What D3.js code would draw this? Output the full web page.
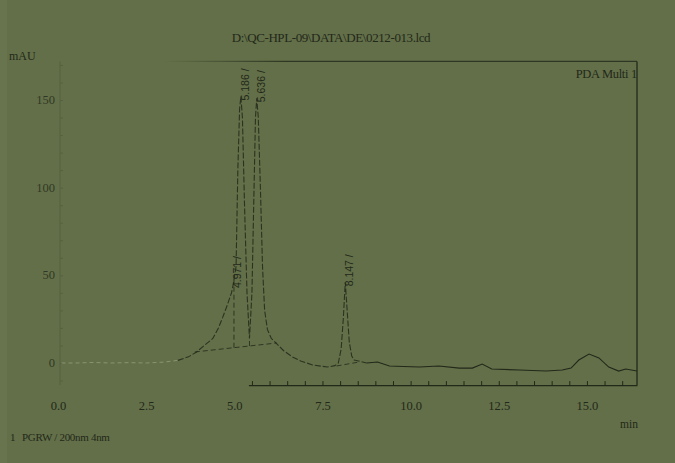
<!DOCTYPE html>
<html>
<head>
<meta charset="utf-8">
<script src="https://cdn.jsdelivr.net/npm/d3@7"></script>
<style>
  html, body { margin: 0; padding: 0; background: #636f48; }
  svg { display: block; }
  text { font-family: "Liberation Serif", "DejaVu Serif", serif; fill: #22281a; }
  .pk { font-family: "Liberation Sans", Arial, sans-serif; font-size: 10.5px; }
</style>
</head>
<body>
<div id="chart"></div>
<script>
// chromatogram trace (time in min, signal in mAU)
var times = [0.1, 0.5, 1.0, 1.5, 2.0, 2.5, 3.0, 3.4, 3.7, 3.93, 4.15, 4.39, 4.55, 4.67, 4.8, 4.92, 4.971,
  5.05, 5.1, 5.15, 5.186, 5.23, 5.29, 5.36, 5.43, 5.5, 5.56, 5.6, 5.636, 5.68, 5.74, 5.8, 5.86, 5.94, 6.05, 6.2,
  6.4, 6.65, 6.9, 7.22, 7.64, 7.85, 7.95, 8.03, 8.09, 8.147, 8.2, 8.26, 8.33, 8.4, 8.75, 9.06, 9.4, 9.8,
  10.25, 10.8, 11.38, 11.75, 12.03, 12.3, 13.08, 13.84, 14.3, 14.55, 14.77, 15.06, 15.34, 15.62, 15.9, 16.1, 16.42];
var signal = [0, 0, 0.3, 0, 0.2, 0, 0.5, 1.5, 3.5, 6.3, 10, 14, 20, 26, 33, 40, 45,
  55, 110, 145, 152, 140, 90, 40, 14, 40, 100, 140, 151, 140, 100, 55, 30, 19, 14, 11,
  7, 3.4, 1, -1.1, -2.3, -1.5, 0, 8, 25, 46, 30, 12, 4, 1.7, 0, 0.6, -1.7, -2,
  -2.3, -1.7, -2.9, -2.9, -0.6, -3.4, -4, -4.6, -4, -2.9, 1.7, 5.1, 2.9, -2.3, -4.6, -3.4, -4.6];

// labelled peaks
var peakTimes = [4.971, 5.186, 5.636, 8.147];
var peakLabels = ["4.971 /", "5.186 /", "5.636 /", "8.147 /"];
var peakHeights = [45, 152, 151, 46];

// integration baselines and drop lines
var baseLines = [[[3.88, 6.3], [6.2, 11.4]], [[7.9, -1.7], [8.55, 0.6]]];
var dropTimes = [4.99, 5.43];

var xTicks = [0, 2.5, 5, 7.5, 10, 12.5, 15];
var yTicks = [0, 50, 100, 150];

var W = 675, H = 463;
var x = d3.scaleLinear().domain([0, 16.42]).range([58, 637]);
var y = d3.scaleLinear().domain([0, 150]).range([363, 100]);
var yTop = 172, yBottom = -12.6;

var svg = d3.select("#chart").append("svg").attr("width", W).attr("height", H);
svg.append("rect").attr("width", W).attr("height", H).attr("fill", "#636f48");
svg.append("rect").attr("width", 7).attr("height", H).attr("fill", "#68744d");

var defs = svg.append("defs");
var g1 = defs.append("linearGradient").attr("id", "fadeTop")
  .attr("gradientUnits", "userSpaceOnUse")
  .attr("x1", x(3)).attr("x2", x(6.5)).attr("y1", 0).attr("y2", 0);
g1.append("stop").attr("offset", 0).attr("stop-color", "#22281a").attr("stop-opacity", 0);
g1.append("stop").attr("offset", 1).attr("stop-color", "#22281a").attr("stop-opacity", 0.8);

// top frame line (faded at the left in the scan)
svg.append("line")
  .attr("x1", x(3)).attr("x2", x(16.42))
  .attr("y1", y(yTop)).attr("y2", y(yTop))
  .attr("stroke", "url(#fadeTop)").attr("stroke-width", 1.2);

// right frame
svg.append("line")
  .attr("x1", x(16.42)).attr("x2", x(16.42))
  .attr("y1", y(yTop)).attr("y2", y(yBottom))
  .attr("stroke", "#22281a").attr("stroke-width", 1.3);

// left axis, barely visible
var yAxis = d3.axisLeft(y).tickValues(d3.range(-10, 171, 10)).tickSize(-3).tickFormat("");
svg.append("g").attr("transform", "translate(60,0)")
  .attr("opacity", 0.12).call(yAxis)
  .call(function (g) { g.select(".domain").attr("d", "M0," + y(yTop) + "V" + y(yBottom)); });

svg.selectAll(".ylab").data(yTicks).enter().append("text")
  .attr("class", "ylab")
  .attr("x", 55).attr("y", function (d) { return y(d) + 4; })
  .attr("text-anchor", "end").attr("font-size", 12.5)
  .attr("fill-opacity", 0.8)
  .text(function (d) { return d; });

// bottom axis: only the right part survived in the scan
var xVis = d3.scaleLinear().domain([5.4, 16.42]).range([x(5.4), x(16.42)]);
var minor = d3.range(5.5, 16.42, 0.5);
svg.append("g").attr("transform", "translate(0," + y(yBottom) + ")")
  .call(d3.axisBottom(xVis).tickValues(minor).tickSize(-4).tickSizeOuter(0).tickFormat(""))
  .call(function (g) {
    g.select(".domain").attr("stroke", "#22281a").attr("stroke-width", 1.1);
    g.selectAll(".tick line").attr("stroke", "#22281a").attr("stroke-width", 1);
  });

svg.append("g").attr("transform", "translate(0," + y(yBottom) + ")")
  .call(d3.axisBottom(x).tickValues(xTicks).tickSize(0).tickPadding(16)
    .tickFormat(d3.format(".1f")))
  .call(function (g) {
    g.select(".domain").remove();
    g.selectAll("text").attr("font-size", 12.5)
      .attr("font-family", "Liberation Serif, serif").attr("fill", "#22281a");
  });

// trace
var pts = times.map(function (t, i) { return [t, signal[i]]; });
var line = d3.line().x(function (d) { return x(d[0]); }).y(function (d) { return y(d[1]); });

svg.append("path").datum(pts.filter(function (d) { return d[0] <= 3.5; }))
  .attr("d", line).attr("fill", "none")
  .attr("stroke", "#8a9472").attr("stroke-width", 1).attr("stroke-dasharray", "4,3");
svg.append("path").datum(pts.filter(function (d) { return d[0] >= 3.4 && d[0] <= 8.8; }))
  .attr("d", line).attr("fill", "none")
  .attr("stroke", "#22281a").attr("stroke-opacity", 0.85).attr("stroke-width", 1.1)
  .attr("stroke-dasharray", "6,2");
svg.append("path").datum(pts.filter(function (d) { return d[0] >= 8.75; }))
  .attr("d", line).attr("fill", "none")
  .attr("stroke", "#22281a").attr("stroke-width", 1.1);

// integration baselines
svg.selectAll(".bl").data(baseLines).enter().append("path")
  .attr("class", "bl").attr("d", line).attr("fill", "none")
  .attr("stroke", "#22281a").attr("stroke-opacity", 0.8)
  .attr("stroke-width", 1).attr("stroke-dasharray", "5,3");

function interp(arrX, arrY, t) {
  return d3.scaleLinear().domain(arrX).range(arrY)(t);
}
svg.selectAll(".drop").data(dropTimes).enter().append("line")
  .attr("x1", function (d) { return x(d); }).attr("x2", function (d) { return x(d); })
  .attr("y1", function (d) { return y(interp(baseLines[0].map(function (p) { return p[0]; }), baseLines[0].map(function (p) { return p[1]; }), d)); })
  .attr("y2", function (d) { return y(interp(times, signal, d)); })
  .attr("stroke", "#22281a").attr("stroke-opacity", 0.8)
  .attr("stroke-width", 1).attr("stroke-dasharray", "5,3");

// peak labels
svg.selectAll(".pk").data(peakTimes).enter().append("text")
  .attr("class", "pk")
  .attr("transform", function (d, i) {
    return "translate(" + (x(d) + 8) + "," + (y(peakHeights[i]) + 4) + ") rotate(-90)";
  })
  .text(function (d, i) { return peakLabels[i]; });

// texts
svg.append("text").attr("x", 331).attr("y", 42).attr("text-anchor", "middle")
  .attr("font-size", 13).attr("letter-spacing", -0.4)
  .text("D:\\QC-HPL-09\\DATA\\DE\\0212-013.lcd");
svg.append("text").attr("x", 9).attr("y", 60).attr("font-size", 12).text("mAU");
svg.append("text").attr("x", 637).attr("y", 78).attr("text-anchor", "end")
  .attr("font-size", 12.5).attr("letter-spacing", -0.3).text("PDA Multi 1");
svg.append("text").attr("x", 638).attr("y", 428).attr("text-anchor", "end")
  .attr("font-size", 11.5).text("min");
svg.append("text").attr("x", 10).attr("y", 441).attr("font-size", 11).text("1");
svg.append("text").attr("x", 22).attr("y", 441).attr("font-size", 11)
  .attr("letter-spacing", -0.3).text("PGRW / 200nm 4nm");
</script>
</body>
</html>
